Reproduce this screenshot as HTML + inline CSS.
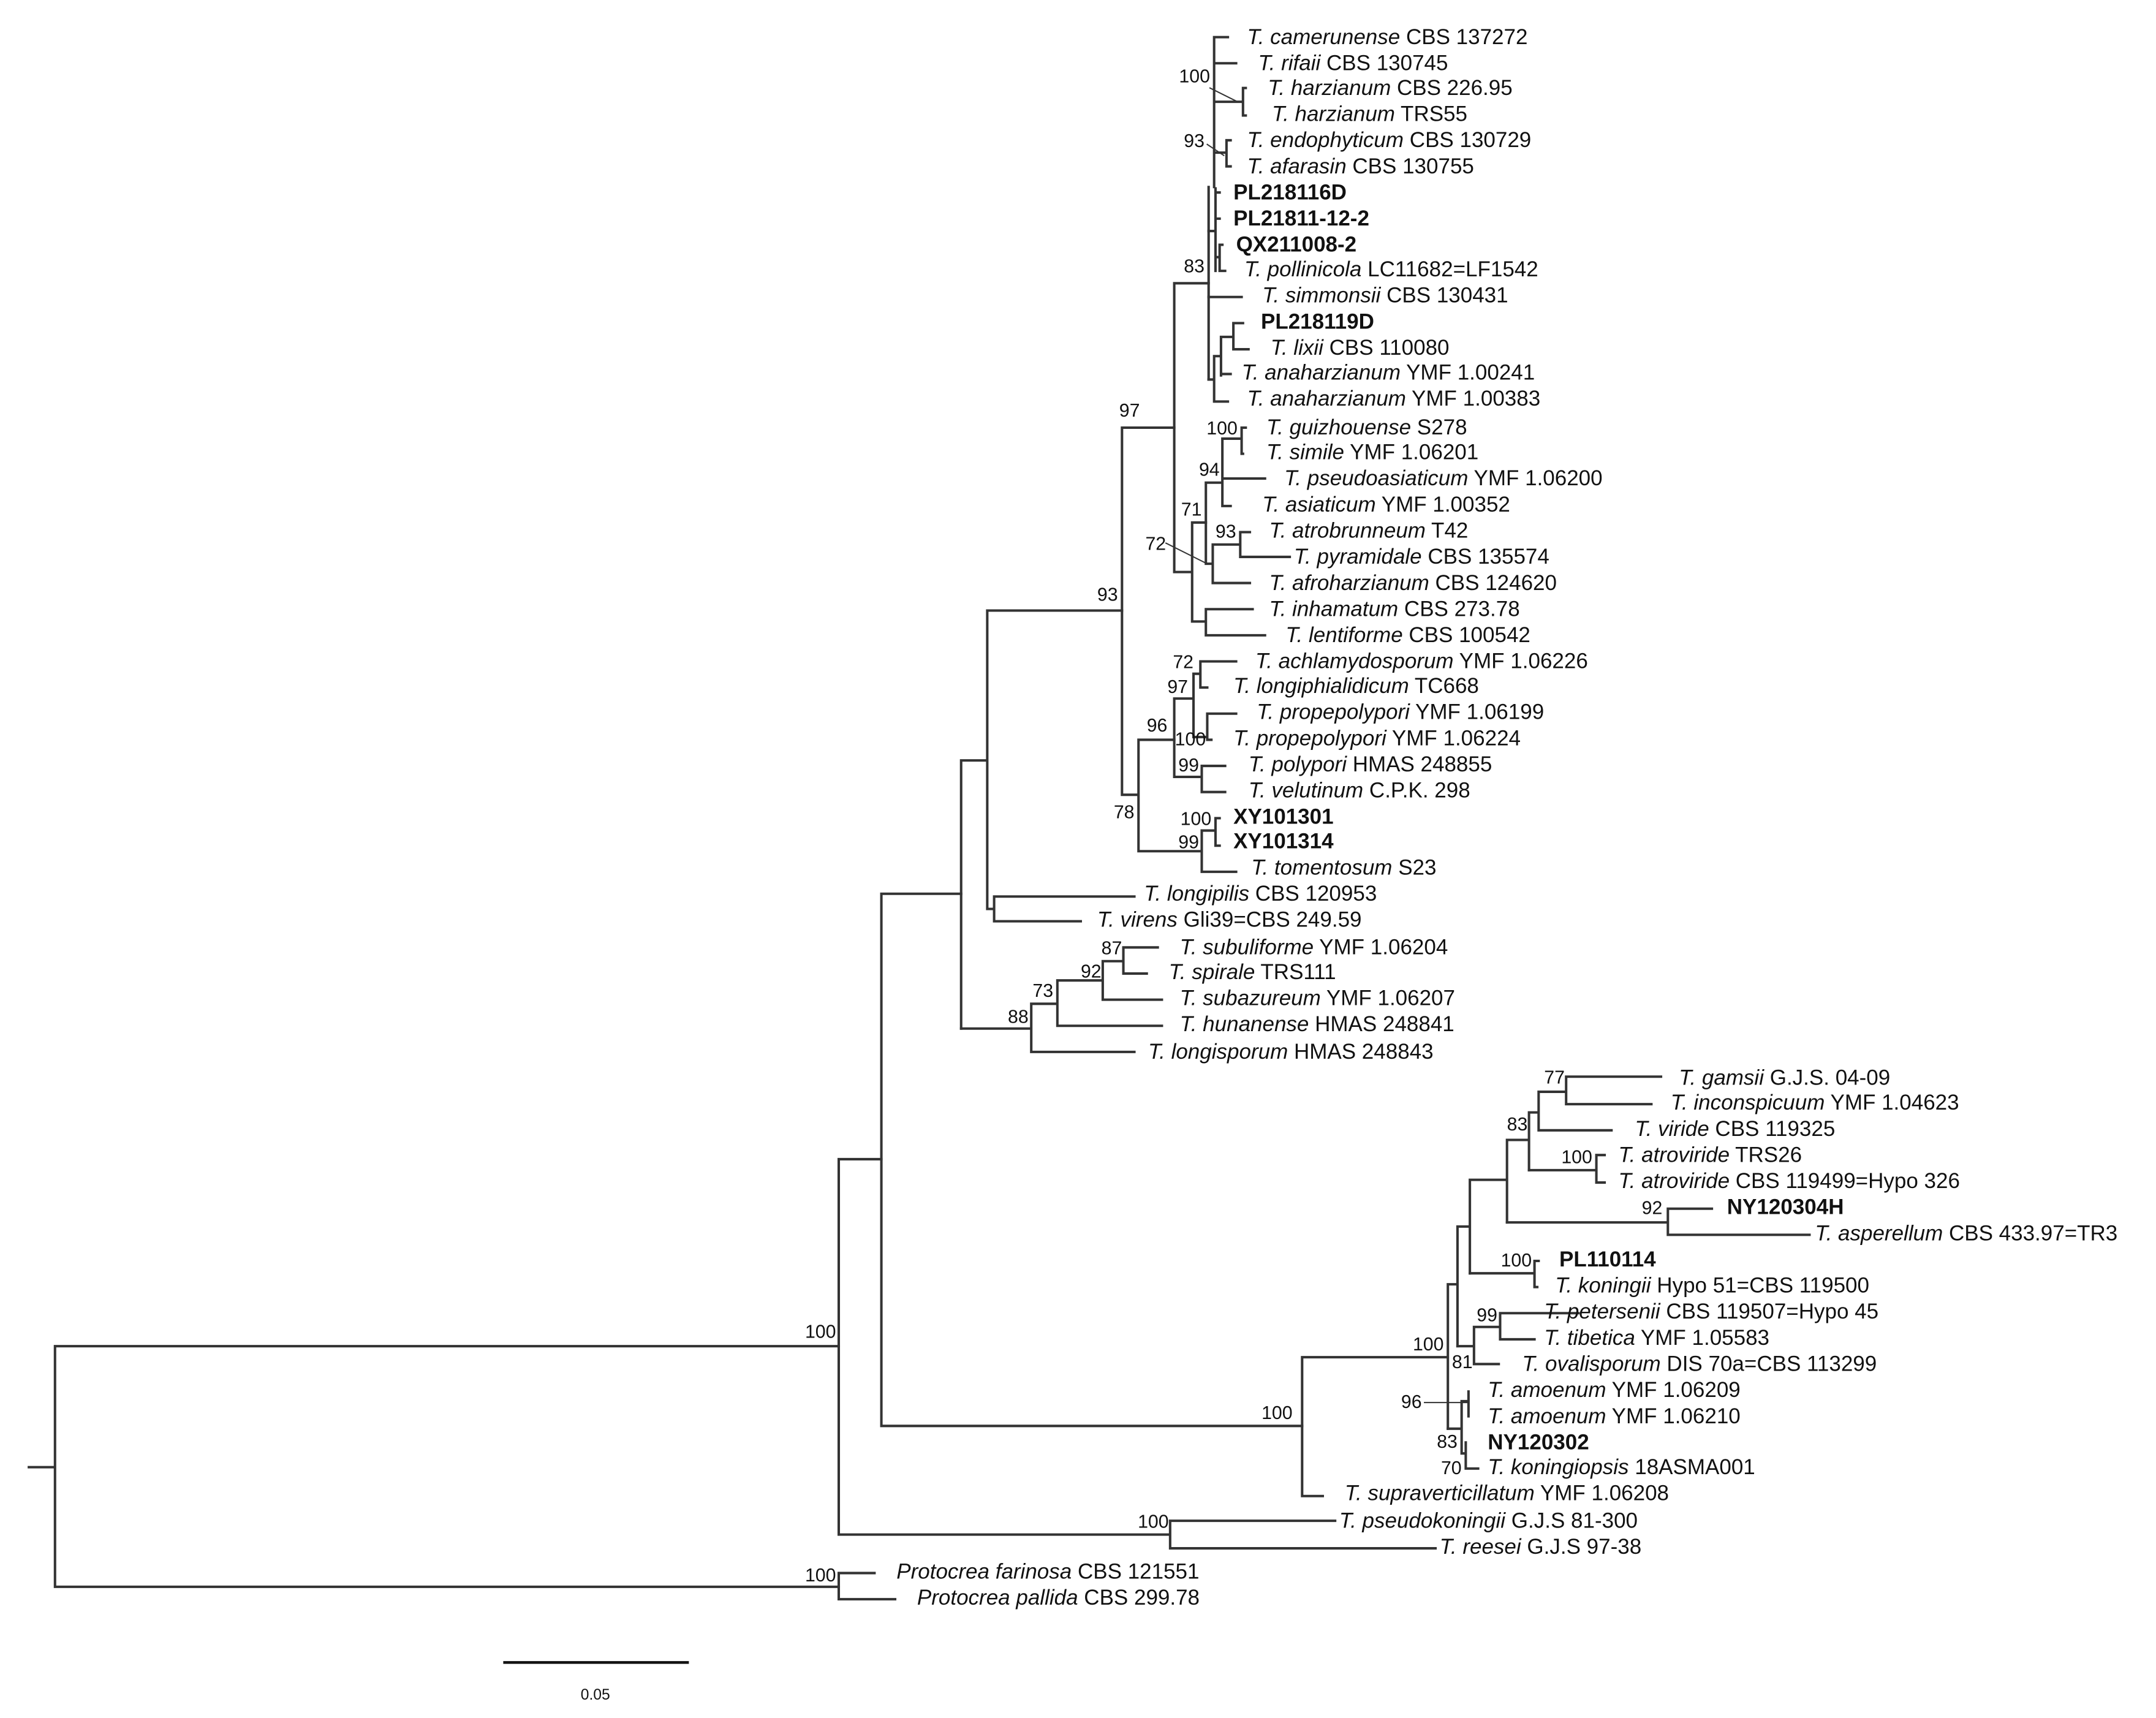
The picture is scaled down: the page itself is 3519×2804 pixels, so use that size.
<!DOCTYPE html>
<html><head><meta charset="utf-8"><style>
html,body{margin:0;padding:0;background:#fff;}
svg{display:block;}
text{font-family:"Liberation Sans",Arial,sans-serif;fill:#111;}
.l{font-size:15.6px;}
.b{font-size:13.5px;}
.i{font-style:italic;}
.bd{font-weight:bold;}
</style></head><body>
<svg width="3519" height="2804" viewBox="0 0 1568 1249.4" xmlns="http://www.w3.org/2000/svg">
<g stroke="#333" stroke-width="1.8" fill="none" stroke-linecap="square">
<path d="M21 1067 H40 M40 979 V1154 M40 979 H610 M40 1154 H610"/>
<path d="M610 1144 V1163 M610 1144 H636 M610 1163 H651"/>
<path d="M610 843 V1116 M610 843 H641 M610 1116 H851 M851 1106 V1126 M851 1106 H971 M851 1126 H1044"/>
<path d="M641 650 V1037 M641 650 H699 M641 1037 H947"/>
<path d="M699 553 V748 M699 553 H718 M718 444 V661 M718 444 H816 M718 661 H723 M723 652 V670 M723 652 H825 M723 670 H786"/>
<path d="M699 748 H750 M750 730 V765 M750 765 H825 M750 730 H769 M769 713 V746 M769 746 H845 M769 713 H802 M802 699 V727 M802 727 H845 M802 699 H817 M817 689 V708 M817 689 H842 M817 708 H834"/>
<path d="M816 311 V578 M816 311 H854 M816 578 H828 M828 538 V619 M828 538 H854 M828 619 H874"/>
<path d="M854 508 V565 M854 508 H868 M868 490 V536 M868 490 H873 M873 481 V500 M873 481 H899 M873 500 H878 M868 536 H878 M878 519 V538 M878 519 H899 M878 538 H881 M854 565 H874 M874 557 V576 M874 557 H891 M874 576 H891"/>
<path d="M874 604 V634 M874 604 H884 M884 595 V615 M884 595 H887 M884 615 H887 M874 634 H899"/>
<path d="M854 206 V416 M854 206 H879 M854 416 H867 M867 380 V452 M867 380 H877 M867 452 H877 M877 443 V462 M877 443 H911 M877 462 H920"/>
<path d="M877 351 V410 M877 351 H889 M889 319 V368 M889 319 H903 M903 311 V330 M903 311 H906 M903 330 H904 M889 348 H920 M889 368 H895 M877 410 H882 M882 396 V424 M882 396 H902 M902 387 V405 M902 387 H909 M902 405 H938 M882 424 H909"/>
<path d="M848 395 L878 410" stroke-width="0.9"/>
<path d="M879 136 V276 M883 27 V136 M883 27 H893 M883 46 H899 M883 74 H904 M904 64 V84 M904 64 H906 M904 84 H906 M883 111 H892 M892 102 V121 M892 102 H895 M892 121 H895"/>
<path d="M879 168 H884 M884 137 V197 M884 140 H887 M884 159 H887 M884 187 H887 M887 178 V197 M887 178 H889 M887 197 H891 M879 216 H903"/>
<path d="M879 276 H883 M883 259 V292 M883 292 H893 M883 259 H888 M888 245 V273 M888 272 H895 M888 245 H897 M897 235 V254 M897 235 H904 M897 254 H908"/>
<path d="M880 64 L900 74 M878 105 L890 113" stroke-width="0.9"/>
<path d="M947 987 V1088 M947 1088 H962 M947 987 H1053 M1053 934 V1039 M1053 934 H1060 M1060 892 V979 M1060 892 H1069 M1069 858 V926 M1069 858 H1096 M1096 829 V889 M1096 829 H1112 M1112 809 V851 M1112 809 H1119 M1119 794 V822 M1119 822 H1172 M1119 794 H1139 M1139 783 V803 M1139 783 H1208 M1139 803 H1201"/>
<path d="M1112 851 H1161 M1161 840 V860 M1161 840 H1167 M1161 860 H1167 M1096 889 H1213 M1213 879 V898 M1213 879 H1245 M1213 898 H1316 M1069 926 H1116 M1116 917 V936 M1116 917 H1119 M1116 936 H1118"/>
<path d="M1060 979 H1072 M1072 965 V992 M1072 992 H1090 M1072 965 H1091 M1091 955 V974 M1091 955 H1148 M1091 974 H1116"/>
<path d="M1053 1039 H1063 M1063 1019 V1057 M1063 1019 H1068 M1068 1012 V1030 M1063 1057 H1066 M1066 1049 V1068 M1066 1068 H1075"/>
<path d="M1036 1020 H1068" stroke-width="0.9"/>
<path d="M367 1209 H500" stroke="#111" stroke-width="2"/>
</g>
<g class="l">
<text x="907" y="32"><tspan class="i">T. camerunense</tspan> CBS 137272</text>
<text x="915" y="51"><tspan class="i">T. rifaii</tspan> CBS 130745</text>
<text x="922" y="69"><tspan class="i">T. harzianum</tspan> CBS 226.95</text>
<text x="925" y="88"><tspan class="i">T. harzianum</tspan> TRS55</text>
<text x="907" y="107"><tspan class="i">T. endophyticum</tspan> CBS 130729</text>
<text x="907" y="126"><tspan class="i">T. afarasin</tspan> CBS 130755</text>
<text x="897" y="145" class="bd">PL218116D</text>
<text x="897" y="164" class="bd">PL21811-12-2</text>
<text x="899" y="183" class="bd">QX211008-2</text>
<text x="905" y="201"><tspan class="i">T. pollinicola</tspan> LC11682=LF1542</text>
<text x="918" y="220"><tspan class="i">T. simmonsii</tspan> CBS 130431</text>
<text x="917" y="239" class="bd">PL218119D</text>
<text x="924" y="258"><tspan class="i">T. lixii</tspan> CBS 110080</text>
<text x="903" y="276"><tspan class="i">T. anaharzianum</tspan> YMF 1.00241</text>
<text x="907" y="295"><tspan class="i">T. anaharzianum</tspan> YMF 1.00383</text>
<text x="921" y="316"><tspan class="i">T. guizhouense</tspan> S278</text>
<text x="921" y="334"><tspan class="i">T. simile</tspan> YMF 1.06201</text>
<text x="934" y="353"><tspan class="i">T. pseudoasiaticum</tspan> YMF 1.06200</text>
<text x="918" y="372"><tspan class="i">T. asiaticum</tspan> YMF 1.00352</text>
<text x="923" y="391"><tspan class="i">T. atrobrunneum</tspan> T42</text>
<text x="941" y="410"><tspan class="i">T. pyramidale</tspan> CBS 135574</text>
<text x="923" y="429"><tspan class="i">T. afroharzianum</tspan> CBS 124620</text>
<text x="923" y="448"><tspan class="i">T. inhamatum</tspan> CBS 273.78</text>
<text x="935" y="467"><tspan class="i">T. lentiforme</tspan> CBS 100542</text>
<text x="913" y="486"><tspan class="i">T. achlamydosporum</tspan> YMF 1.06226</text>
<text x="897" y="504"><tspan class="i">T. longiphialidicum</tspan> TC668</text>
<text x="914" y="523"><tspan class="i">T. propepolypori</tspan> YMF 1.06199</text>
<text x="897" y="542"><tspan class="i">T. propepolypori</tspan> YMF 1.06224</text>
<text x="908" y="561"><tspan class="i">T. polypori</tspan> HMAS 248855</text>
<text x="908" y="580"><tspan class="i">T. velutinum</tspan> C.P.K. 298</text>
<text x="897" y="599" class="bd">XY101301</text>
<text x="897" y="617" class="bd">XY101314</text>
<text x="910" y="636"><tspan class="i">T. tomentosum</tspan> S23</text>
<text x="832" y="655"><tspan class="i">T. longipilis</tspan> CBS 120953</text>
<text x="798" y="674"><tspan class="i">T. virens</tspan> Gli39=CBS 249.59</text>
<text x="858" y="694"><tspan class="i">T. subuliforme</tspan> YMF 1.06204</text>
<text x="850" y="712"><tspan class="i">T. spirale</tspan> TRS111</text>
<text x="858" y="731"><tspan class="i">T. subazureum</tspan> YMF 1.06207</text>
<text x="858" y="750"><tspan class="i">T. hunanense</tspan> HMAS 248841</text>
<text x="835" y="770"><tspan class="i">T. longisporum</tspan> HMAS 248843</text>
<text x="1221" y="789"><tspan class="i">T. gamsii</tspan> G.J.S. 04-09</text>
<text x="1215" y="807"><tspan class="i">T. inconspicuum</tspan> YMF 1.04623</text>
<text x="1189" y="826"><tspan class="i">T. viride</tspan> CBS 119325</text>
<text x="1177" y="845"><tspan class="i">T. atroviride</tspan> TRS26</text>
<text x="1177" y="864"><tspan class="i">T. atroviride</tspan> CBS 119499=Hypo 326</text>
<text x="1256" y="883" class="bd">NY120304H</text>
<text x="1320" y="902"><tspan class="i">T. asperellum</tspan> CBS 433.97=TR3</text>
<text x="1134" y="921" class="bd">PL110114</text>
<text x="1131" y="940"><tspan class="i">T. koningii</tspan> Hypo 51=CBS 119500</text>
<text x="1123" y="959"><tspan class="i">T. petersenii</tspan> CBS 119507=Hypo 45</text>
<text x="1123" y="978"><tspan class="i">T. tibetica</tspan> YMF 1.05583</text>
<text x="1107" y="997"><tspan class="i">T. ovalisporum</tspan> DIS 70a=CBS 113299</text>
<text x="1082" y="1016"><tspan class="i">T. amoenum</tspan> YMF 1.06209</text>
<text x="1082" y="1035"><tspan class="i">T. amoenum</tspan> YMF 1.06210</text>
<text x="1082" y="1054" class="bd">NY120302</text>
<text x="1082" y="1072"><tspan class="i">T. koningiopsis</tspan> 18ASMA001</text>
<text x="978" y="1091"><tspan class="i">T. supraverticillatum</tspan> YMF 1.06208</text>
<text x="974" y="1111"><tspan class="i">T. pseudokoningii</tspan> G.J.S 81-300</text>
<text x="1047" y="1130"><tspan class="i">T. reesei</tspan> G.J.S 97-38</text>
<text x="652" y="1148"><tspan class="i">Protocrea farinosa</tspan> CBS 121551</text>
<text x="667" y="1167"><tspan class="i">Protocrea pallida</tspan> CBS 299.78</text>
</g>
<g class="b" text-anchor="end">
<text x="880" y="60">100</text>
<text x="876" y="107">93</text>
<text x="876" y="198">83</text>
<text x="829" y="303">97</text>
<text x="813" y="437">93</text>
<text x="900" y="316">100</text>
<text x="887" y="346">94</text>
<text x="874" y="375">71</text>
<text x="848" y="400">72</text>
<text x="899" y="391">93</text>
<text x="868" y="486">72</text>
<text x="864" y="504">97</text>
<text x="849" y="532">96</text>
<text x="877" y="542">100</text>
<text x="872" y="561">99</text>
<text x="825" y="595">78</text>
<text x="881" y="600">100</text>
<text x="872" y="617">99</text>
<text x="816" y="694">87</text>
<text x="801" y="711">92</text>
<text x="766" y="725">73</text>
<text x="748" y="744">88</text>
<text x="1138" y="788">77</text>
<text x="1111" y="822">83</text>
<text x="1158" y="846">100</text>
<text x="1209" y="883">92</text>
<text x="1114" y="921">100</text>
<text x="1089" y="961">99</text>
<text x="1050" y="982">100</text>
<text x="1071" y="995">81</text>
<text x="1034" y="1024">96</text>
<text x="1060" y="1053">83</text>
<text x="1063" y="1072">70</text>
<text x="940" y="1032">100</text>
<text x="850" y="1111">100</text>
<text x="608" y="973">100</text>
<text x="608" y="1150">100</text>
</g>
<text x="433" y="1236" text-anchor="middle" style="font-size:11px">0.05</text>
</svg>
</body></html>
